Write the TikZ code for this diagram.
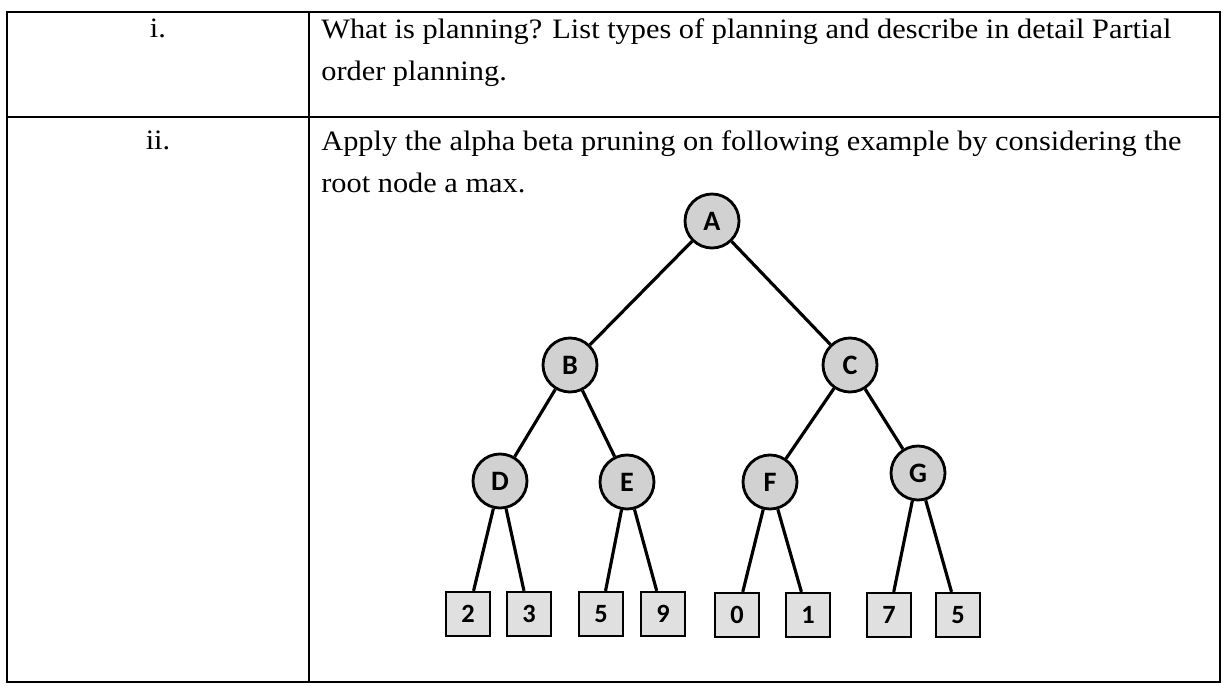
\documentclass[tikz,border=0pt]{standalone}
\usepackage{fontspec}
\setmainfont{Liberation Serif}[FakeStretch=1.08]
\newfontfamily\labelfont{Carlito}
\usetikzlibrary{positioning}
\begin{document}
\begin{tikzpicture}[node distance=2cm, on grid]
        % Define styles for the table, the questions and the game tree
        \tikzstyle{frame} = [line width=1.1pt, draw=black]
        \tikzstyle{question} = [anchor=north west, align=left, inner sep=0pt, font=\fontsize{16}{24}\selectfont]
        \tikzstyle{number} = [anchor=base, inner sep=0pt, font=\fontsize{16}{24}\selectfont]
        \tikzstyle{player} = [circle, minimum size=1.08cm, inner sep=0pt, draw=black, line width=1.6pt, fill=black!18, font=\labelfont\bfseries\fontsize{16}{16}\selectfont]
        \tikzstyle{leaf} = [rectangle, minimum size=0.88cm, inner sep=0pt, draw=black, line width=1.3pt, fill=black!12, font=\labelfont\bfseries\fontsize{15}{15}\selectfont]
        \tikzstyle{branch} = [line width=1.8pt]

        \useasboundingbox (0,0) rectangle (24.46,-13.72);

        % Table
        \draw [frame] (0.14,-0.24) rectangle (24.40,-13.64);
        \draw [frame] (6.18,-0.24) -- (6.18,-13.64);
        \draw [frame] (0.14,-2.34) -- (24.40,-2.34);

        \node (num1) [number] at (3.16,-0.76) {i.};
        \node (q1) [question] at (6.42,-0.37) {What is planning? List types of planning and describe in detail Partial\\order planning.};
        \node (num2) [number] at (3.16,-3.00) {ii.};
        \node (q2) [question] at (6.42,-2.60) {Apply the alpha beta pruning on following example by considering the\\root node a max.};

        % Game tree
        \node (A) [player] at (14.24,-4.42) {A};
        \node (B) [player, below left=2.88cm and 2.84cm of A] {B};
        \node (C) [player, below right=2.88cm and 2.76cm of A] {C};
        \node (D) [player, below left=2.32cm and 1.40cm of B] {D};
        \node (E) [player, below right=2.34cm and 1.14cm of B] {E};
        \node (F) [player, below left=2.34cm and 1.60cm of C] {F};
        \node (G) [player, below right=2.16cm and 1.36cm of C] {G};

        \node (d1) [leaf, below left=2.66cm and 0.64cm of D] {2};
        \node (d2) [leaf, below right=2.66cm and 0.58cm of D] {3};
        \node (e1) [leaf, below left=2.64cm and 0.52cm of E] {5};
        \node (e2) [leaf, below right=2.64cm and 0.72cm of E] {9};
        \node (f1) [leaf, below left=2.66cm and 0.66cm of F] {0};
        \node (f2) [leaf, below right=2.66cm and 0.76cm of F] {1};
        \node (g1) [leaf, below left=2.84cm and 0.58cm of G] {7};
        \node (g2) [leaf, below right=2.84cm and 0.80cm of G] {5};

        % Branches
        \draw [branch] (A) -- (B);
        \draw [branch] (A) -- (C);
        \draw [branch] (B) -- (D);
        \draw [branch] (B) -- (E);
        \draw [branch] (C) -- (F);
        \draw [branch] (C) -- (G);
        \draw [branch] (D) -- (d1);
        \draw [branch] (D) -- (d2);
        \draw [branch] (E) -- (e1);
        \draw [branch] (E) -- (e2);
        \draw [branch] (F) -- (f1);
        \draw [branch] (F) -- (f2);
        \draw [branch] (G) -- (g1);
        \draw [branch] (G) -- (g2);
\end{tikzpicture}
\end{document}
